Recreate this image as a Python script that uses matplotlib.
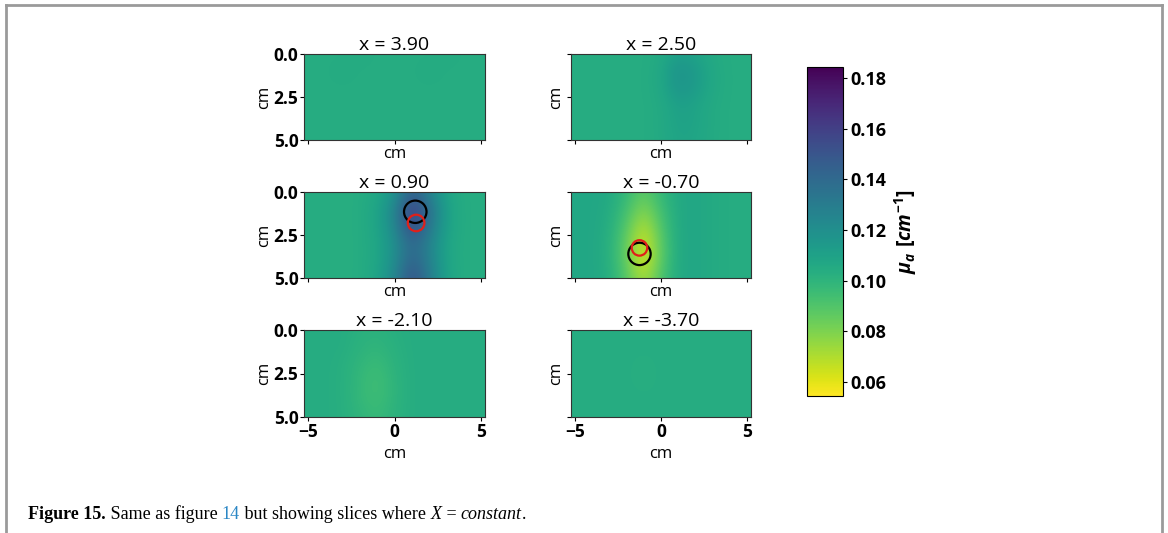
import numpy as np
import matplotlib
matplotlib.use("Agg")
import matplotlib.pyplot as plt
from matplotlib.lines import Line2D
from matplotlib.patches import Circle

plt.rcParams["font.family"] = ["Open Sans", "DejaVu Sans"]
plt.rcParams["mathtext.fontset"] = "custom"
plt.rcParams["mathtext.it"] = "Open Sans:italic:bold"
plt.rcParams["mathtext.rm"] = "Open Sans:bold"
plt.rcParams["mathtext.bf"] = "Open Sans:bold"

# ---- data: mu_a [cm^-1] sampled on a coarse grid, rows z = 0..5 cm, columns y = -5..5 cm
y_nodes = np.arange(-5, 6, 1)
z_nodes = np.arange(0, 6, 1)

slice_x = [3.90, 2.50, 0.90, -0.70, -2.10, -3.70]

mua_x390 = [
    [0.104, 0.104, 0.104, 0.105, 0.104, 0.104, 0.104, 0.104, 0.105, 0.104, 0.104],
    [0.104, 0.104, 0.105, 0.104, 0.104, 0.104, 0.104, 0.105, 0.104, 0.104, 0.104],
    [0.104, 0.104, 0.104, 0.104, 0.104, 0.104, 0.104, 0.104, 0.104, 0.104, 0.104],
    [0.104, 0.104, 0.104, 0.104, 0.104, 0.104, 0.104, 0.104, 0.104, 0.104, 0.104],
    [0.104, 0.104, 0.104, 0.104, 0.104, 0.104, 0.104, 0.104, 0.104, 0.104, 0.104],
    [0.104, 0.104, 0.104, 0.104, 0.104, 0.104, 0.104, 0.104, 0.104, 0.104, 0.104],
]
mua_x250 = [
    [0.104, 0.104, 0.104, 0.104, 0.104, 0.105, 0.111, 0.109, 0.105, 0.104, 0.104],
    [0.104, 0.104, 0.104, 0.104, 0.104, 0.106, 0.119, 0.114, 0.106, 0.104, 0.104],
    [0.104, 0.104, 0.104, 0.104, 0.104, 0.106, 0.117, 0.113, 0.106, 0.104, 0.104],
    [0.104, 0.104, 0.104, 0.104, 0.104, 0.105, 0.111, 0.109, 0.105, 0.104, 0.104],
    [0.104, 0.104, 0.104, 0.104, 0.104, 0.105, 0.110, 0.109, 0.105, 0.104, 0.104],
    [0.104, 0.104, 0.104, 0.104, 0.104, 0.105, 0.109, 0.108, 0.105, 0.104, 0.104],
]
mua_x090 = [
    [0.104, 0.104, 0.103, 0.104, 0.106, 0.116, 0.145, 0.126, 0.108, 0.104, 0.104],
    [0.104, 0.104, 0.103, 0.104, 0.108, 0.124, 0.164, 0.138, 0.110, 0.104, 0.104],
    [0.104, 0.104, 0.103, 0.104, 0.108, 0.123, 0.158, 0.134, 0.110, 0.104, 0.104],
    [0.104, 0.104, 0.103, 0.104, 0.107, 0.119, 0.142, 0.127, 0.108, 0.104, 0.104],
    [0.104, 0.104, 0.103, 0.104, 0.107, 0.120, 0.145, 0.128, 0.108, 0.104, 0.104],
    [0.104, 0.104, 0.103, 0.104, 0.108, 0.124, 0.154, 0.132, 0.109, 0.104, 0.104],
]
mua_xm070 = [
    [0.107, 0.107, 0.106, 0.098, 0.086, 0.098, 0.106, 0.107, 0.105, 0.104, 0.104],
    [0.107, 0.107, 0.105, 0.094, 0.078, 0.094, 0.106, 0.107, 0.105, 0.104, 0.104],
    [0.107, 0.107, 0.104, 0.089, 0.068, 0.090, 0.106, 0.107, 0.105, 0.104, 0.104],
    [0.107, 0.107, 0.103, 0.085, 0.061, 0.087, 0.106, 0.107, 0.105, 0.104, 0.104],
    [0.107, 0.107, 0.103, 0.085, 0.061, 0.087, 0.106, 0.107, 0.105, 0.104, 0.104],
    [0.107, 0.107, 0.104, 0.089, 0.070, 0.091, 0.106, 0.107, 0.105, 0.104, 0.104],
]
mua_xm210 = [
    [0.104, 0.104, 0.104, 0.102, 0.101, 0.103, 0.104, 0.104, 0.104, 0.104, 0.104],
    [0.104, 0.104, 0.104, 0.101, 0.099, 0.102, 0.104, 0.104, 0.104, 0.104, 0.104],
    [0.104, 0.104, 0.103, 0.099, 0.096, 0.101, 0.104, 0.104, 0.104, 0.104, 0.104],
    [0.104, 0.104, 0.103, 0.098, 0.094, 0.100, 0.104, 0.104, 0.104, 0.104, 0.104],
    [0.104, 0.104, 0.103, 0.098, 0.095, 0.100, 0.104, 0.104, 0.104, 0.104, 0.104],
    [0.104, 0.104, 0.103, 0.100, 0.097, 0.101, 0.104, 0.104, 0.104, 0.104, 0.104],
]
mua_xm370 = [
    [0.104, 0.104, 0.104, 0.104, 0.104, 0.104, 0.104, 0.104, 0.104, 0.104, 0.104],
    [0.104, 0.104, 0.104, 0.104, 0.104, 0.104, 0.104, 0.104, 0.104, 0.104, 0.104],
    [0.104, 0.104, 0.104, 0.104, 0.103, 0.104, 0.104, 0.104, 0.104, 0.104, 0.104],
    [0.104, 0.104, 0.104, 0.104, 0.103, 0.104, 0.104, 0.104, 0.104, 0.104, 0.104],
    [0.104, 0.104, 0.104, 0.104, 0.104, 0.104, 0.104, 0.104, 0.104, 0.104, 0.104],
    [0.104, 0.104, 0.104, 0.104, 0.104, 0.104, 0.104, 0.104, 0.104, 0.104, 0.104],
]
slices = [mua_x390, mua_x250, mua_x090, mua_xm070, mua_xm210, mua_xm370]

# inclusion outlines (y, z, radius) in cm: true (black) and reconstructed (red)
true_incl = {2: (1.20, 1.15, 0.65), 3: (-1.25, 3.60, 0.65)}
reco_incl = {2: (1.25, 1.80, 0.48), 3: (-1.25, 3.25, 0.45)}

vmin, vmax = 0.0545, 0.1843
cb_ticks = [0.06, 0.08, 0.10, 0.12, 0.14, 0.16, 0.18]

W, H = 1168, 533
fig = plt.figure(figsize=(W / 100, H / 100), dpi=100)


def box(x0, y0, x1, y1):
    return [x0 / W, 1 - y1 / H, (x1 - x0) / W, (y1 - y0) / H]


col_x = [(304, 485), (571, 751)]
row_y = [(54, 140), (192, 278), (330, 417)]

im = None
for k, (sx, grid) in enumerate(zip(slice_x, slices)):
    r, c = divmod(k, 2)
    ax = fig.add_axes(box(col_x[c][0], row_y[r][0], col_x[c][1], row_y[r][1]))
    im = ax.imshow(np.array(grid), cmap="viridis_r", vmin=vmin, vmax=vmax,
                   extent=(-5.5, 5.5, 5.5, -0.5), interpolation="bicubic",
                   aspect="auto")
    ax.set_xlim(-5.23, 5.23)
    ax.set_ylim(5, 0)
    ax.set_xticks([-5, 0, 5])
    ax.set_yticks([0, 2.5, 5])
    ax.set_title(f"x = {sx:.2f}", fontsize=14, pad=2)
    ax.set_xlabel("cm", fontsize=12, labelpad=4 if r == 2 else 0)
    ax.set_ylabel("cm", fontsize=12, labelpad=1)
    ax.tick_params(length=3, width=0.8, labelsize=12.5, pad=1)
    for lab in ax.get_xticklabels() + ax.get_yticklabels():
        lab.set_fontweight("bold")
    if r < 2:
        ax.set_xticklabels([])
    else:
        ax.set_xticklabels(["\u22125", "0", "5"])
    if c == 1:
        ax.set_yticklabels([])
    else:
        ax.set_yticklabels(["0.0", "2.5", "5.0"])
    for sp in ax.spines.values():
        sp.set_color("#333333")
        sp.set_linewidth(0.8)
    if k in true_incl:
        cy, cz, rad = true_incl[k]
        ax.add_patch(Circle((cy, cz), rad, fill=False, ec="black", lw=1.6))
        cy, cz, rad = reco_incl[k]
        ax.add_patch(Circle((cy, cz), rad, fill=False, ec="#e0201a", lw=1.6))

cax = fig.add_axes(box(807, 67, 843, 396))
cb = fig.colorbar(im, cax=cax, ticks=cb_ticks)
cb.ax.tick_params(labelsize=13, length=3, pad=2)
cb.ax.set_yticklabels([f"{t:.2f}" for t in cb_ticks], fontweight="bold")
cb.outline.set_linewidth(0.8)
cb.set_label(r"$\mu_a\ [cm^{-1}]$", fontsize=14, fontweight="bold", labelpad=4)

# page frame
frame_kw = dict(color="#9a9a9a", lw=2.0, transform=fig.transFigure)
fig.add_artist(Line2D([6 / W, 1162 / W], [1 - 5 / H, 1 - 5 / H], **frame_kw))
fig.add_artist(Line2D([6 / W, 6 / W], [1 - 5 / H, 0], **frame_kw))
fig.add_artist(Line2D([1162 / W, 1162 / W], [1 - 5 / H, 0], **frame_kw))

# caption
cap_kw = dict(fontsize=13, family="Liberation Serif", va="baseline")
t = fig.text(28 / W, 1 - 519 / H, "Figure 15.", fontweight="bold", **cap_kw)
pieces = [(" Same as figure ", {}), ("14", {"color": "#2b87c5"}),
          (" but showing slices where ", {}), ("X", {"style": "italic"}),
          (" = ", {}), ("constant", {"style": "italic"}), (".", {})]
for s, extra in pieces:
    t = fig.add_artist(plt.Annotation(s, xy=(1, 0), xycoords=t,
                                      va="bottom", ha="left",
                                      fontsize=13, family="Liberation Serif",
                                      **extra))

fig.savefig("out.png", dpi=100)
